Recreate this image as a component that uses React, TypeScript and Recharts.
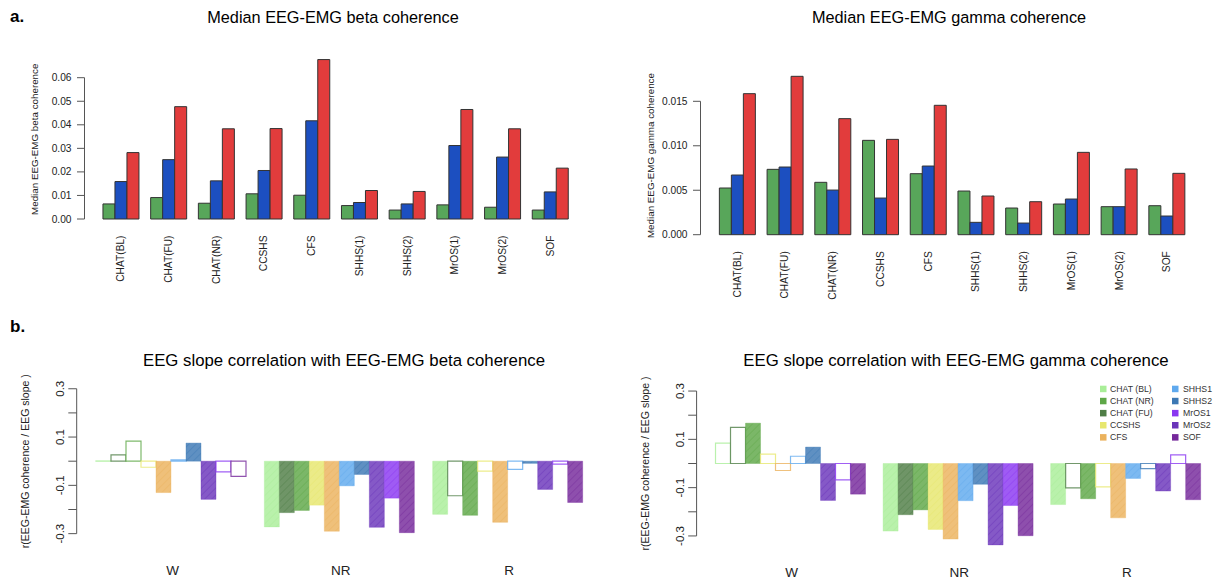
import React from "react";
import { BarChart, Bar, XAxis, YAxis, Cell } from "recharts";

const FONT = '"Liberation Sans", Arial, Helvetica, sans-serif';

// ---------- a. Median EEG-EMG coherence per dataset ----------
const datasets = ["CHAT(BL)", "CHAT(FU)", "CHAT(NR)", "CCSHS", "CFS", "SHHS(1)", "SHHS(2)", "MrOS(1)", "MrOS(2)", "SOF"];
const betaGreen = [0.0064, 0.0091, 0.0067, 0.0107, 0.0101, 0.0057, 0.0038, 0.006, 0.005, 0.0038];
const betaBlue = [0.0159, 0.0252, 0.0162, 0.0206, 0.0417, 0.007, 0.0064, 0.0312, 0.0263, 0.0115];
const betaRed = [0.0282, 0.0477, 0.0383, 0.0384, 0.0677, 0.0121, 0.0117, 0.0465, 0.0383, 0.0216];
const gammaGreen = [0.00525, 0.00735, 0.00589, 0.01061, 0.00686, 0.00491, 0.003, 0.00345, 0.00315, 0.00326];
const gammaBlue = [0.00671, 0.00761, 0.00502, 0.00412, 0.00772, 0.00139, 0.00131, 0.00401, 0.00315, 0.0021];
const gammaRed = [0.01586, 0.01781, 0.01305, 0.01072, 0.01455, 0.00435, 0.00371, 0.00926, 0.00739, 0.0069];
const betaTicks = [0, 0.01, 0.02, 0.03, 0.04, 0.05, 0.06];
const gammaTicks = [0, 0.005, 0.01, 0.015];
const medianColors = ["#58a65a", "#1c4fc0", "#e23c3c"];

// ---------- b. EEG slope correlation per sleep stage ----------
const stages = ["W", "NR", "R"];
const cohorts = ["CHAT (BL)", "CHAT (FU)", "CHAT (NR)", "CCSHS", "CFS", "SHHS1", "SHHS2", "MrOS2", "MrOS1", "SOF"];
const cohortColors = ["#a9ee98", "#4f7e46", "#5ea747", "#e7e76e", "#ebb25d", "#5fa9ee", "#3c78b4", "#6a34ba", "#8a37f1", "#75289b"];
const legendOrder = ["CHAT (BL)", "CHAT (NR)", "CHAT (FU)", "CCSHS", "CFS", "SHHS1", "SHHS2", "MrOS1", "MrOS2", "SOF"];
const corrTicks = [-0.3, -0.2, -0.1, 0, 0.1, 0.2, 0.3];
const corrTickLabels = ["-0.3", "", "-0.1", "", "0.1", "", "0.3"];

const betaCorrW = [0.001, 0.026, 0.083, -0.025, -0.13, 0.0055, 0.075, -0.158, -0.044, -0.063];
const betaCorrNR = [-0.272, -0.213, -0.204, -0.182, -0.29, -0.102, -0.055, -0.274, -0.153, -0.296];
const betaCorrR = [-0.22, -0.143, -0.224, -0.041, -0.253, -0.034, -0.009, -0.117, -0.012, -0.171];
const betaSigW = [0, 0, 0, 0, 1, 0, 1, 1, 0, 0];
const betaSigNR = [1, 1, 1, 1, 1, 1, 1, 1, 1, 1];
const betaSigR = [1, 0, 1, 0, 1, 0, 1, 1, 0, 1];

const gammaCorrW = [0.084, 0.15, 0.167, 0.039, -0.029, 0.03, 0.068, -0.153, -0.068, -0.127];
const gammaCorrNR = [-0.28, -0.212, -0.192, -0.273, -0.313, -0.154, -0.086, -0.337, -0.174, -0.299];
const gammaCorrR = [-0.17, -0.101, -0.146, -0.097, -0.225, -0.062, -0.021, -0.114, 0.036, -0.15];
const gammaSigW = [0, 0, 1, 0, 0, 0, 1, 1, 0, 1];
const gammaSigNR = [1, 1, 1, 1, 1, 1, 1, 1, 1, 1];
const gammaSigR = [1, 0, 1, 0, 1, 1, 0, 1, 0, 1];

const AXIS_GRAY = "#555";
const TEXT = "#222";

function medianRows(g: number[], b: number[], r: number[]) {
  return datasets.map((d, i) => ({ name: d, g: g[i], b: b[i], r: r[i] }));
}

function stageRows(byStage: number[][]) {
  return stages.map((s, si) => {
    const row: any = { stage: s };
    cohorts.forEach((c, ci) => {
      row[c] = byStage[si][ci];
    });
    return row;
  });
}

// y-axis drawn R-style: axis line only spans first..last tick
function ValueTick(props: any) {
  const { y, index, axisX, ppu, ticks, digits } = props;
  const v = ticks[index];
  const span = (ticks[ticks.length - 1] - ticks[0]) * ppu;
  return (
    <g>
      <line x1={axisX - 7.5} x2={axisX} y1={y} y2={y} stroke={AXIS_GRAY} strokeWidth={1} />
      {index === 0 && <line x1={axisX} x2={axisX} y1={y} y2={y - span} stroke={AXIS_GRAY} strokeWidth={1} />}
      <text x={axisX - 13} y={y} textAnchor="end" dominantBaseline="central" fontSize={10.2} fill={TEXT} fontFamily={FONT}>
        {v.toFixed(digits)}
      </text>
    </g>
  );
}

function DatasetTick(props: any) {
  const { x, payload, labelY } = props;
  return (
    <text
      x={x}
      y={labelY}
      transform={`rotate(-90 ${x} ${labelY})`}
      textAnchor="end"
      dominantBaseline="central"
      fontSize={10.2}
      fill={TEXT}
      fontFamily={FONT}
    >
      {payload.value}
    </text>
  );
}

function CorrTick(props: any) {
  const { y, index, axisX, ppu } = props;
  const label = corrTickLabels[index];
  const span = (corrTicks[corrTicks.length - 1] - corrTicks[0]) * ppu;
  const lx = axisX - 17;
  return (
    <g>
      <line x1={axisX - 8.4} x2={axisX} y1={y} y2={y} stroke={AXIS_GRAY} strokeWidth={1} />
      {index === 0 && <line x1={axisX} x2={axisX} y1={y} y2={y - span} stroke={AXIS_GRAY} strokeWidth={1} />}
      {label && (
        <text
          x={lx}
          y={y}
          transform={`rotate(-90 ${lx} ${y})`}
          textAnchor="middle"
          dominantBaseline="central"
          fontSize={11.5}
          fill={TEXT}
          fontFamily={FONT}
        >
          {label}
        </text>
      )}
    </g>
  );
}

function StageTick(props: any) {
  const { x, payload, labelY } = props;
  return (
    <text x={x} y={labelY} textAnchor="middle" dominantBaseline="central" fontSize={13.5} fill={TEXT} fontFamily={FONT}>
      {payload.value}
    </text>
  );
}

function AxisTitle({ x, y, text, size }: { x: number; y: number; text: string; size: number }) {
  return (
    <text x={x} y={y} transform={`rotate(-90 ${x} ${y})`} textAnchor="middle" dominantBaseline="central" fontSize={size} fill={TEXT} fontFamily={FONT}>
      {text}
    </text>
  );
}

type MedianProps = {
  left: number;
  width: number;
  height: number;
  axisX: number;
  zeroY: number;
  ppu: number;
  domain: [number, number];
  ticks: number[];
  digits: number;
  bandStart: number;
  bandEnd: number;
  g: number[];
  b: number[];
  r: number[];
  yTitle: string;
};

function MedianPanel(p: MedianProps) {
  const data = medianRows(p.g, p.b, p.r);
  const plotTop = p.zeroY - p.domain[1] * p.ppu;
  const plotBottom = p.zeroY - p.domain[0] * p.ppu;
  const titleY = p.zeroY - ((p.domain[0] + p.domain[1]) / 2) * p.ppu;
  const keys = ["g", "b", "r"];
  return (
    <div style={{ position: "absolute", left: p.left, top: 0 }}>
      <BarChart
        width={p.width}
        height={p.height}
        data={data}
        margin={{ top: plotTop, right: p.width - p.bandEnd, bottom: 0, left: 0 }}
        barCategoryGap="12.5%"
        barGap={0}
      >
        <XAxis
          dataKey="name"
          height={p.height - plotBottom}
          axisLine={false}
          tickLine={false}
          interval={0}
          padding={{ left: p.bandStart - p.axisX, right: 0 }}
          tick={<DatasetTick labelY={p.zeroY + 16.5} />}
        />
        <YAxis
          type="number"
          domain={p.domain}
          ticks={p.ticks}
          width={p.axisX}
          axisLine={false}
          tickLine={false}
          interval={0}
          tick={<ValueTick axisX={p.axisX} ppu={p.ppu} ticks={p.ticks} digits={p.digits} />}
          label={{ content: () => <AxisTitle x={p.axisX - 50} y={titleY} text={p.yTitle} size={9.8} /> }}
        />
        {keys.map((k, i) => (
          <Bar key={k} dataKey={k} fill={medianColors[i]} stroke="#333" strokeWidth={1} isAnimationActive={false} />
        ))}
      </BarChart>
    </div>
  );
}

type CorrProps = {
  left: number;
  top: number;
  width: number;
  height: number;
  axisX: number;
  zeroY: number;
  bandStart: number;
  bandEnd: number;
  values: number[][];
  sig: number[][];
};

function CorrelationPanel(p: CorrProps) {
  const domain: [number, number] = [-0.35, 0.35];
  const ppu = 241.5;
  const plotTop = p.zeroY - domain[1] * ppu;
  const plotBottom = p.zeroY - domain[0] * ppu;
  const data = stageRows(p.values);
  return (
    <div style={{ position: "absolute", left: p.left, top: p.top }}>
      <BarChart
        width={p.width}
        height={p.height}
        data={data}
        margin={{ top: plotTop, right: p.width - p.bandEnd, bottom: 0, left: 0 }}
        barCategoryGap={`${50 / 11}%`}
        barGap={0}
      >
        <XAxis
          dataKey="stage"
          height={p.height - plotBottom}
          axisLine={false}
          tickLine={false}
          interval={0}
          padding={{ left: p.bandStart - p.axisX, right: 0 }}
          tick={<StageTick labelY={p.zeroY + 108.8} />}
        />
        <YAxis
          type="number"
          domain={domain}
          ticks={corrTicks}
          width={p.axisX}
          axisLine={false}
          tickLine={false}
          interval={0}
          tick={<CorrTick axisX={p.axisX} ppu={ppu} />}
          label={{
            content: () => <AxisTitle x={p.axisX - 52} y={p.zeroY} text="r(EEG-EMG coherence / EEG slope )" size={10.5} />,
          }}
        />
        {cohorts.map((c, ci) => (
          <Bar key={c} dataKey={c} isAnimationActive={false}>
            {data.map((_, si) =>
              p.sig[si][ci] ? (
                <Cell key={si} fill={`url(#hatch-${ci})`} stroke={cohortColors[ci]} strokeOpacity={0.35} strokeWidth={1} />
              ) : (
                <Cell key={si} fill="#ffffff" stroke={cohortColors[ci]} strokeOpacity={0.8} strokeWidth={1.2} />
              )
            )}
          </Bar>
        ))}
      </BarChart>
    </div>
  );
}

function HatchDefs() {
  return (
    <svg width={0} height={0} style={{ position: "absolute" }}>
      <defs>
        {cohortColors.map((c, i) => (
          <pattern key={i} id={`hatch-${i}`} patternUnits="userSpaceOnUse" width={5} height={5} patternTransform="rotate(45)">
            <rect width={5} height={5} fill={c} fillOpacity={0.82} />
            <line x1={0} y1={0} x2={0} y2={5} stroke={c} strokeWidth={1.6} strokeOpacity={0.55} />
          </pattern>
        ))}
      </defs>
    </svg>
  );
}

function Overlay() {
  const legendX = [1100, 1172];
  const labelX = [1110, 1183];
  return (
    <svg width={1215} height={582} style={{ position: "absolute", left: 0, top: 0, pointerEvents: "none" }} fontFamily={FONT}>
      <text x={10} y={16.5} dominantBaseline="central" fontSize={17} fontWeight="bold" fill="#000">a.</text>
      <text x={10} y={326} dominantBaseline="central" fontSize={17} fontWeight="bold" fill="#000">b.</text>
      <text x={333} y={17} textAnchor="middle" dominantBaseline="central" fontSize={16.3} fill="#000">Median EEG-EMG beta coherence</text>
      <text x={949} y={17} textAnchor="middle" dominantBaseline="central" fontSize={16.3} fill="#000">Median EEG-EMG gamma coherence</text>
      <text x={344} y={360} textAnchor="middle" dominantBaseline="central" fontSize={16.8} fill="#000">EEG slope correlation with EEG-EMG beta coherence</text>
      <text x={956} y={360} textAnchor="middle" dominantBaseline="central" fontSize={16.8} fill="#000">EEG slope correlation with EEG-EMG gamma coherence</text>
      {legendOrder.map((name, i) => {
        const col = Math.floor(i / 5);
        const row = i % 5;
        const y = 389 + row * 12.1;
        const color = cohortColors[cohorts.indexOf(name)];
        return (
          <g key={name}>
            <rect x={legendX[col]} y={y - 3.3} width={6.5} height={6.5} fill={color} />
            <text x={labelX[col]} y={y} dominantBaseline="central" fontSize={8.7} fill="#333">{name}</text>
          </g>
        );
      })}
    </svg>
  );
}

export default function App() {
  return (
    <div style={{ position: "absolute", left: 0, top: 0, width: 1215, height: 582, background: "#fff", overflow: "hidden", fontFamily: FONT }}>
      <HatchDefs />
      <MedianPanel
        left={0}
        width={600}
        height={300}
        axisX={84.5}
        zeroY={219}
        ppu={2355}
        domain={[-0.0027, 0.0704]}
        ticks={betaTicks}
        digits={2}
        bandStart={97}
        bandEnd={574}
        g={betaGreen}
        b={betaBlue}
        r={betaRed}
        yTitle="Median EEG-EMG beta coherence"
      />
      <MedianPanel
        left={600}
        width={615}
        height={300}
        axisX={100.5}
        zeroY={234.7}
        ppu={8893}
        domain={[-0.0007, 0.0185]}
        ticks={gammaTicks}
        digits={3}
        bandStart={113.4}
        bandEnd={590.6}
        g={gammaGreen}
        b={gammaBlue}
        r={gammaRed}
        yTitle="Median EEG-EMG gamma coherence"
      />
      <CorrelationPanel
        left={0}
        top={300}
        width={600}
        height={282}
        axisX={76.7}
        zeroY={161.2}
        bandStart={88.35}
        bandEnd={593.35}
        values={[betaCorrW, betaCorrNR, betaCorrR]}
        sig={[betaSigW, betaSigNR, betaSigR]}
      />
      <CorrelationPanel
        left={600}
        top={300}
        width={615}
        height={282}
        axisX={96.6}
        zeroY={163.5}
        bandStart={107.9}
        bandEnd={610.6}
        values={[gammaCorrW, gammaCorrNR, gammaCorrR]}
        sig={[gammaSigW, gammaSigNR, gammaSigR]}
      />
      <Overlay />
    </div>
  );
}
